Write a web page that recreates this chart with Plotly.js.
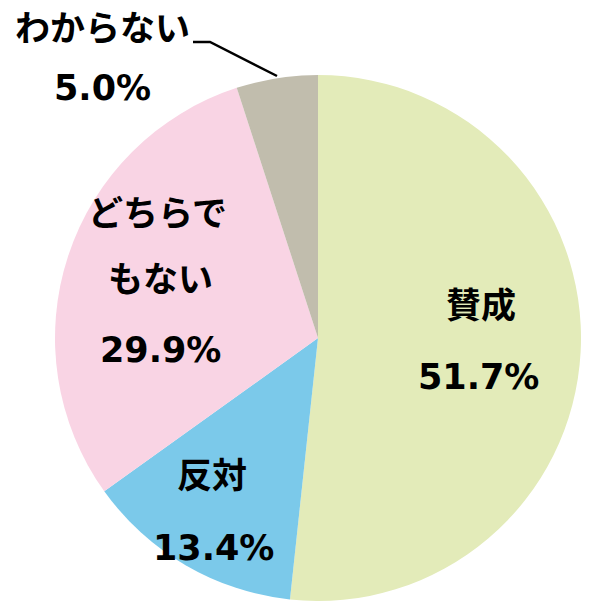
<!DOCTYPE html>
<html>
<head>
<meta charset="utf-8">
<script src="https://cdn.plot.ly/plotly-3.0.1.min.js"></script>
<style>html,body{margin:0;padding:0;background:#fff;}#chart{width:598px;height:609px;}</style>
</head>
<body>
<div id="chart"></div>
<script>
const categories = ["賛成", "反対", "どちらでもない", "わからない"];
const values = [51.7, 13.4, 29.9, 5.0];
const labelLines = [["賛成"], ["反対"], ["どちらで", "もない"], ["わからない"]];
const colors = ["#E3EBB9", "#7BC9EA", "#F9D4E4", "#C1BDAD"];

const W = 598, H = 609;
// label layout (pixels): name line centers, value center
const labelPos = [
  {names: [[481, 302]], value: [478, 377]},
  {names: [[212, 472]], value: [213, 548]},
  {names: [[157, 210], [160, 276]], value: [160, 350]},
  {names: [[102, 26]], value: [102, 88]}
];
const jpFont = "Noto Sans CJK JP, Noto Sans, sans-serif";
const numFont = "DejaVu Sans, Verdana, sans-serif";
const annotations = [];
labelLines.forEach((lines, i) => {
  lines.forEach((t, j) => {
    const p = labelPos[i].names[j];
    annotations.push({text: "<b>" + t + "</b>", x: p[0] / W, y: 1 - p[1] / H, xref: "paper", yref: "paper",
      showarrow: false, xanchor: "center", yanchor: "middle", borderpad: 0,
      font: {family: jpFont, size: 35, color: "#000"}});
  });
  const v = labelPos[i].value;
  annotations.push({text: "<b>" + values[i].toFixed(1) + "%</b>", x: v[0] / W, y: 1 - v[1] / H, xref: "paper", yref: "paper",
    showarrow: false, xanchor: "center", yanchor: "middle", borderpad: 0,
    font: {family: numFont, size: 35, color: "#000"}});
});

const cx = 318, cy = 338, r = 263;
const data = [{
  type: "pie",
  labels: categories,
  values: values,
  sort: false,
  direction: "clockwise",
  rotation: 0,
  textinfo: "none",
  hoverinfo: "label+percent",
  marker: {colors: colors, line: {width: 0}},
  domain: {x: [(cx - r) / W, (cx + r) / W], y: [1 - (cy + r) / H, 1 - (cy - r) / H]},
  showlegend: false
}];
const layout = {
  width: W, height: H,
  margin: {l: 0, r: 0, t: 0, b: 0},
  paper_bgcolor: "#fff",
  showlegend: false,
  annotations: annotations,
  shapes: [{type: "path", xref: "paper", yref: "paper",
    path: "M " + (193 / W) + " " + (1 - 42 / H) + " L " + (210 / W) + " " + (1 - 42 / H) + " L " + (277 / W) + " " + (1 - 76 / H),
    line: {color: "#000", width: 2.5}}]
};
Plotly.newPlot("chart", data, layout, {staticPlot: true});
</script>
</body>
</html>
